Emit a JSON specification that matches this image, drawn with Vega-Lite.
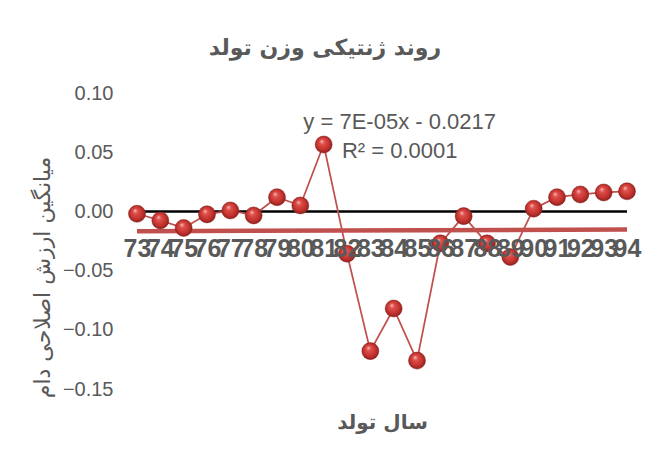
{
  "$schema": "https://vega.github.io/schema/vega-lite/v6.json",
  "width": 490,
  "height": 296,
  "autosize": {"type": "none"},
  "padding": {"left": 137, "top": 93, "right": 23, "bottom": 60},
  "background": "white",
  "config": {
    "view": {"stroke": null}
  },
  "title": {
    "text": "روند ژنتیکی وزن تولد",
    "font": "DejaVu Sans",
    "fontSize": 22,
    "fontWeight": "bold",
    "color": "#595959",
    "anchor": "middle",
    "dx": -57,
    "offset": 23
  },
  "data": {
    "values": [
      {"year": 73, "v": -0.002},
      {"year": 74, "v": -0.0076},
      {"year": 75, "v": -0.014},
      {"year": 76, "v": -0.0025},
      {"year": 77, "v": 0.0008},
      {"year": 78, "v": -0.0034},
      {"year": 79, "v": 0.012},
      {"year": 80, "v": 0.005},
      {"year": 81, "v": 0.0565},
      {"year": 82, "v": -0.0357},
      {"year": 83, "v": -0.118},
      {"year": 84, "v": -0.082},
      {"year": 85, "v": -0.126},
      {"year": 86, "v": -0.027},
      {"year": 87, "v": -0.004},
      {"year": 88, "v": -0.027},
      {"year": 89, "v": -0.0385},
      {"year": 90, "v": 0.0023},
      {"year": 91, "v": 0.012},
      {"year": 92, "v": 0.0143},
      {"year": 93, "v": 0.016},
      {"year": 94, "v": 0.017}
    ]
  },
  "encoding": {
    "x": {
      "field": "year",
      "type": "ordinal",
      "scale": {"type": "point", "padding": 0},
      "axis": {
        "orient": "bottom",
        "offset": -178,
        "labelAngle": 0,
        "domain": false,
        "ticks": false,
        "grid": false,
        "labelOverlap": false,
        "labelFont": "Liberation Sans",
        "labelFontSize": 25,
        "labelFontWeight": "bold",
        "labelColor": "#595959",
        "labelPadding": 25,
        "labelBaseline": "top",
        "zindex": 1,
        "title": "سال تولد",
        "titleFont": "DejaVu Sans",
        "titleFontSize": 20,
        "titleFontWeight": "bold",
        "titleColor": "#595959",
        "titleY": 217,
        "titleBaseline": "alphabetic"
      }
    },
    "y": {
      "field": "v",
      "type": "quantitative",
      "scale": {"domain": [-0.15, 0.1], "nice": false, "zero": false},
      "axis": {
        "values": [-0.15, -0.1, -0.05, 0, 0.05, 0.1],
        "format": ".2f",
        "domain": false,
        "ticks": false,
        "grid": false,
        "labelFont": "Liberation Sans",
        "labelFontSize": 20,
        "labelColor": "#595959",
        "labelPadding": 24,
        "title": "میانگین ارزش اصلاحی دام",
        "titleFont": "DejaVu Sans",
        "titleFontSize": 22,
        "titleFontWeight": "normal",
        "titleColor": "#595959",
        "titleX": -95,
        "titleY": 184,
        "titleAngle": -90,
        "titleAlign": "center",
        "titleBaseline": "middle"
      }
    }
  },
  "layer": [
    {
      "data": {"values": [{"z": 0}]},
      "mark": {"type": "rule", "color": "black", "strokeWidth": 2.5},
      "encoding": {"x": null, "y": {"field": "z", "type": "quantitative"}}
    },
    {
      "transform": [{"regression": "v", "on": "year"}],
      "mark": {"type": "line", "color": "#C0504D", "strokeWidth": 4.5}
    },
    {
      "mark": {"type": "line", "color": "#C0504D", "strokeWidth": 1.75}
    },
    {
      "mark": {
        "type": "point",
        "filled": true,
        "shape": "circle",
        "size": 290,
        "opacity": 1,
        "stroke": "#8a2320",
        "strokeWidth": 0.5,
        "fill": {
          "gradient": "radial",
          "x1": 0.38, "y1": 0.3, "r1": 0,
          "x2": 0.5, "y2": 0.5, "r2": 0.55,
          "stops": [
            {"offset": 0, "color": "#f6c9c7"},
            {"offset": 0.25, "color": "#e0504b"},
            {"offset": 0.7, "color": "#c0302c"},
            {"offset": 1, "color": "#7e1c1a"}
          ]
        }
      }
    },
    {
      "data": {"values": [{"label": "y = 7E-05x - 0.0217", "ly": 0.0759}, {"label": "R² = 0.0001", "ly": 0.0514}]},
      "mark": {"type": "text", "font": "Liberation Sans", "fontSize": 22, "fontWeight": "normal", "fill": "#595959", "align": "center", "baseline": "middle", "dx": 6},
      "encoding": {
        "x": {"datum": 84, "type": "ordinal"},
        "y": {"field": "ly", "type": "quantitative"},
        "text": {"field": "label", "type": "nominal"}
      }
    }
  ]
}
